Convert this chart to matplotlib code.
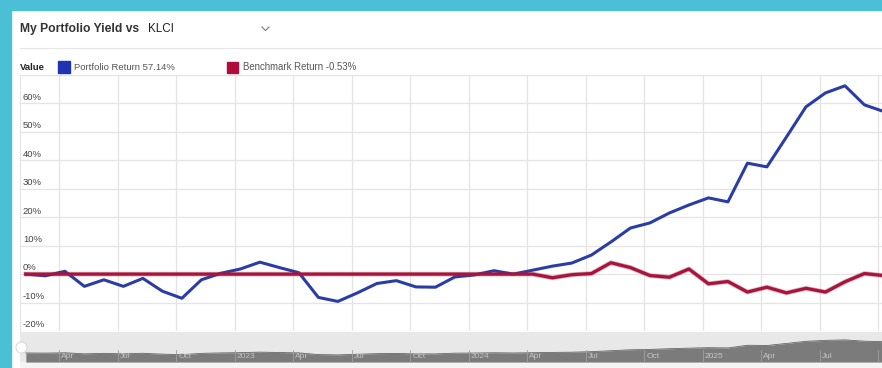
import matplotlib.pyplot as plt
import pandas as pd
from matplotlib.lines import Line2D
from matplotlib.patches import Rectangle

W, H = 882, 368

# monthly returns (%), Feb 2022 .. Oct 2025
months = pd.period_range("2022-02", "2025-10", freq="M")
portfolio = [0.0, -0.6, 1.0, -4.3, -2.0, -4.3, -1.5, -6.0, -8.5, -2.0,
             0.3, 1.8, 4.2, 2.3, 0.5, -8.2, -9.6, -6.6, -3.3, -2.3,
             -4.5, -4.6, -1.0, -0.3, 1.2, 0.0, 1.4, 2.8, 3.9, 6.7,
             11.3, 16.2, 18.0, 21.5, 24.3, 26.8, 25.4, 39.0, 37.7, 48.2,
             58.8, 63.7, 66.2, 59.5, 57.14]
benchmark = [0.0, 0.0, 0.0, 0.0, 0.0, 0.0, 0.0, 0.0, 0.0, 0.0,
             0.0, 0.0, 0.0, 0.0, 0.0, 0.0, 0.0, 0.0, 0.0, 0.0,
             0.0, 0.0, 0.0, 0.0, 0.0, 0.0, 0.0, -1.3, -0.2, 0.2,
             4.0, 2.3, -0.5, -1.1, 1.8, -3.4, -2.6, -6.3, -4.6, -6.6,
             -5.0, -6.3, -2.7, 0.2, -0.53]
y_ticks = [-20, -10, 0, 10, 20, 30, 40, 50, 60, 70]
quarter_starts = pd.period_range("2022-04", "2025-10", freq="Q-DEC")

def month_pos(p):
    return (p.year - 2022) * 12 + p.month - 1

x = [month_pos(p) + 0.3 for p in months]
qx = [month_pos(p.asfreq("M", "start")) for p in quarter_starts]
qlabels = [str(p.year) if p.quarter == 1 else p.asfreq("M", "start").strftime("%b")
           for p in quarter_starts]

BLUE = "#2a3da6"
RED = "#a8143c"
CYAN = "#4bbfd6"
GRID = "#e4e4e4"

def fx(px):
    return px / W

def fy(py):
    return 1 - py / H

fig = plt.figure(figsize=(W / 100, H / 100), dpi=100)
fig.patch.set_facecolor("white")
plt.rcParams["font.family"] = ["Liberation Sans", "DejaVu Sans"]

# cyan frame around the panel
fig.add_artist(Rectangle((0, fy(10)), 1, 10 / H, transform=fig.transFigure,
                         color=CYAN, zorder=10))
fig.add_artist(Rectangle((0, 0), 11 / W, 1, transform=fig.transFigure,
                         color=CYAN, zorder=10))

# header
fig.text(fx(20), fy(29), "My Portfolio Yield vs", fontsize=8.7, fontweight="bold",
         color="#333333", va="center")
fig.text(fx(148), fy(29), "KLCI", fontsize=8.4, color="#222222", va="center")
fig.add_artist(Line2D([fx(262), fx(265.5), fx(269)], [fy(27), fy(30.5), fy(27)],
                      color="#888888", lw=0.9))
fig.add_artist(Line2D([fx(20), 1], [fy(48), fy(48)], color="#e6e6e6", lw=0.8))

# legend row
fig.text(fx(20), fy(67), "Value", fontsize=6.8, fontweight="bold", color="#222222",
         va="center")
fig.add_artist(Rectangle((fx(58), fy(73)), 12 / W, 12 / H, transform=fig.transFigure,
                         color="#1f33b3"))
fig.text(fx(74), fy(67), "Portfolio Return 57.14%", fontsize=6.8, color="#555555",
         va="center")
fig.add_artist(Rectangle((fx(227), fy(73)), 11 / W, 11 / H, transform=fig.transFigure,
                         color="#b00c3c"))
fig.text(fx(243), fy(67), "Benchmark Return -0.53%", fontsize=6.9, color="#555555",
         va="center")

# main chart
ax = fig.add_axes([fx(20), fy(331), 862 / W, 256 / H])
ax.set_xlim(1, 45.2)
ax.set_ylim(-20, 70)
for s in ax.spines.values():
    s.set_visible(False)
ax.spines["left"].set_visible(True)
ax.spines["left"].set_color(GRID)
ax.spines["top"].set_visible(True)
ax.spines["top"].set_color(GRID)
ax.set_xticks(qx)
ax.set_yticks(y_ticks)
ax.tick_params(length=0, labelbottom=False, labelleft=False)
ax.grid(True, color=GRID, lw=0.9)
for v in y_ticks[:-1]:
    ax.text(1.15, v + 0.6, f"{v}%", fontsize=6.8, color="#444444", va="bottom",
            ha="left")

ax.plot(x, portfolio, color=BLUE, lw=2.2, solid_joinstyle="round", zorder=3)
ax.plot(x, benchmark, color=RED, lw=3.4, alpha=0.35, zorder=4)
ax.plot(x, benchmark, color=RED, lw=2.3, solid_joinstyle="round", zorder=5)

# navigator strip
nav = fig.add_axes([fx(20), 0, 862 / W, 36 / H])
nav.set_xlim(1, 45.2)
nav.set_ylim(-76, 106)
nav.set_facecolor("#e8e8e8")
for s in nav.spines.values():
    s.set_visible(False)
nav.set_xticks([])
nav.set_yticks([])
nav.axhspan(-76, -46, color="#f4f4f4", zorder=0)
nav.fill_between(x, -46, portfolio, color="#7b7b7b", lw=0, zorder=1)
nav.plot(x, portfolio, color="#666666", lw=0.6, zorder=2)
for q, lab in zip(qx, qlabels):
    nav.axvline(q, ymin=0.17, ymax=0.5, color="#a0a0a0", lw=0.6, zorder=3)
    if q < 44:
        nav.text(q + 0.12, -16, lab, fontsize=6, color="#c4c4c4", va="center",
                 ha="left", zorder=4)
nav.plot([1.05], [30], marker="o", ms=8, mfc="white", mec="#d0d0d0", mew=0.6,
         clip_on=False, zorder=5)

fig.savefig("out.png", dpi=100)
